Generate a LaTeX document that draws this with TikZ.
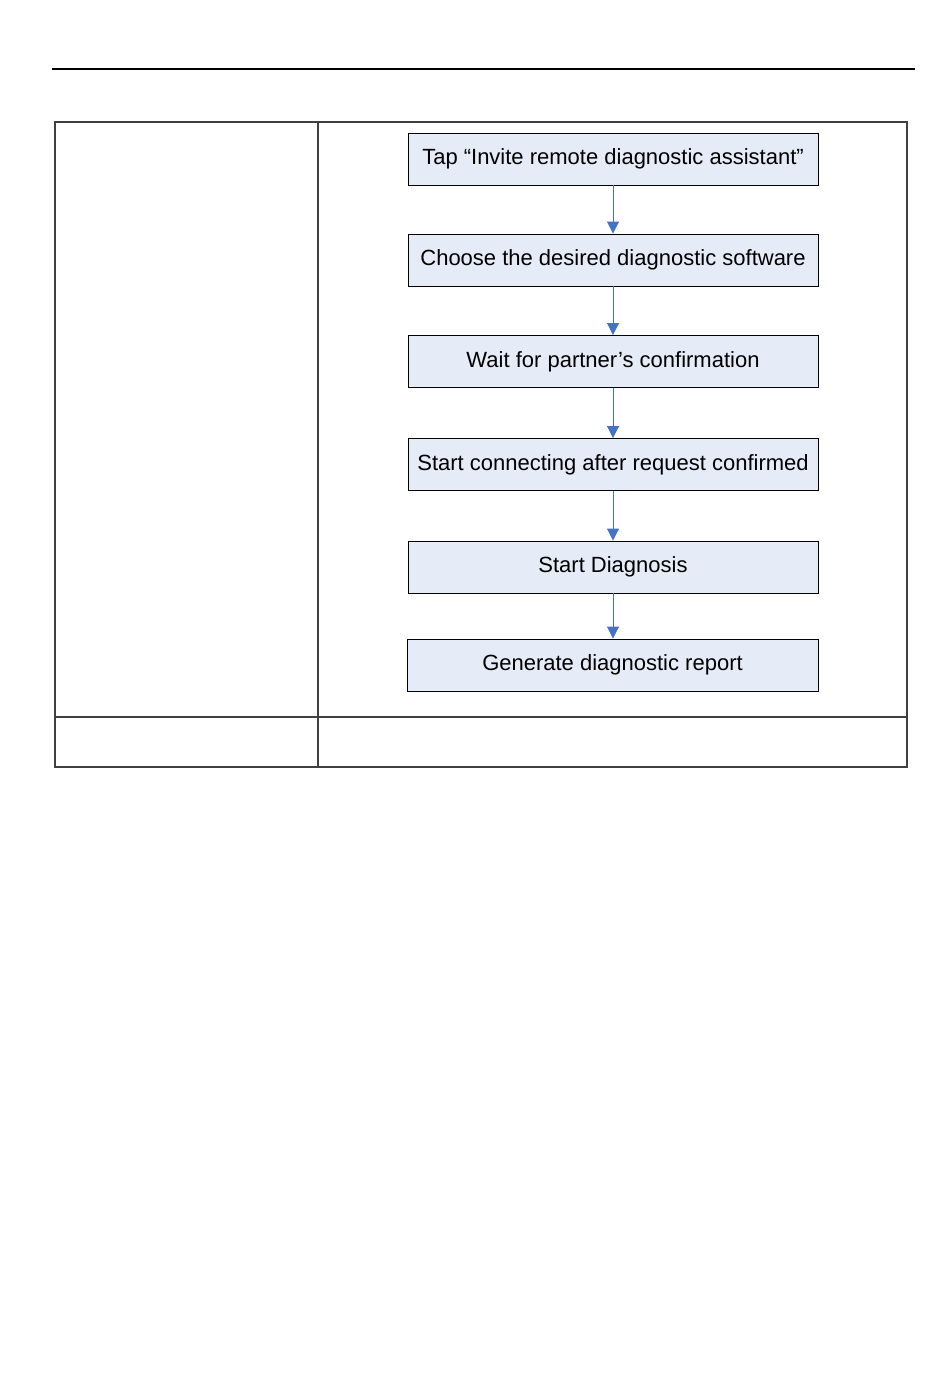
\documentclass[tikz,border=0pt]{standalone}
\usepackage{fontspec}
\setmainfont{Liberation Sans}
\usetikzlibrary{arrows.meta}
\definecolor{boxfill}{HTML}{E6ECF7}
\definecolor{arrowblue}{HTML}{4472C4}
\definecolor{tablegray}{HTML}{404040}
\begin{document}
\begin{tikzpicture}[x=1pt,y=-1pt,
  stepbox/.style={draw=black, line width=0.9pt, fill=boxfill, minimum width=410pt, minimum height=52pt, inner sep=0pt, font=\fontsize{22}{26}\selectfont},
  flow/.style={draw=arrowblue, line width=0.9pt, -{Triangle[length=12pt,width=12pt]}},
  tline/.style={draw=tablegray, line width=1.2pt}]
\useasboundingbox (0,0) rectangle (950,1386);
\draw[line width=2.2pt] (52,69) -- (915,69);
% table
\draw[tline] (55,122) rectangle (907,767);
\draw[tline, line width=1.8pt] (318,122) -- (318,767);
\draw[tline] (55,717) -- (907,717);
\draw[tline, line width=1.8pt] (55,122) -- (55,767);
\draw[tline, line width=1.8pt] (907,122) -- (907,767);
% boxes
\node[stepbox] (b1) at (613,159) {Tap “Invite remote diagnostic assistant”};
\node[stepbox] (b2) at (613,260) {Choose the desired diagnostic software};
\node[stepbox] (b3) at (613,361.5) {Wait for partner’s confirmation};
\node[stepbox] (b4) at (613,464.5) {Start connecting after request confirmed};
\node[stepbox] (b5) at (613,567) {Start Diagnosis};
\node[stepbox, minimum width=411pt] (b6) at (612.5,665) {Generate diagnostic report};
\draw[flow] (b1) -- (b2);
\draw[flow] (b2) -- (b3);
\draw[flow] (b3) -- (b4);
\draw[flow] (b4) -- (b5);
\draw[flow] (b5.south) -- (b5.south |- b6.north);
\end{tikzpicture}
\end{document}
